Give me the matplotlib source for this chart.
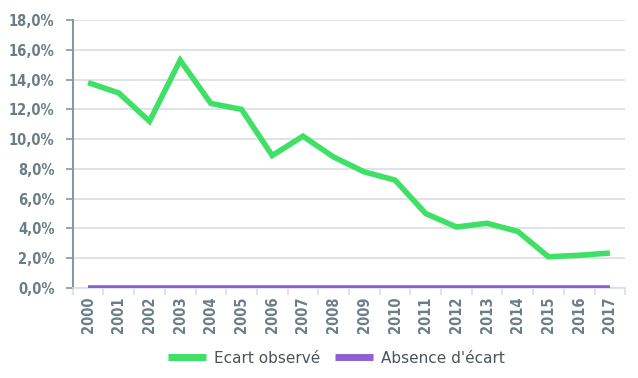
import matplotlib
matplotlib.use("Agg")
import matplotlib.pyplot as plt
from matplotlib.ticker import FuncFormatter

years = [str(y) for y in range(2000, 2018)]
ecart = [13.8, 13.1, 11.2, 15.3, 12.4, 12.0, 8.9, 10.2, 8.8, 7.8,
         7.25, 5.0, 4.1, 4.35, 3.8, 2.1, 2.2, 2.35]
absence = [0.0] * len(years)

label_color = "#6b7d86"
grid_color = "#d9dee1"

fig = plt.figure(figsize=(6.38, 3.78), dpi=100)
ax = fig.add_axes([0.114, 0.238, 0.866, 0.709])

x = range(len(years))
ax.plot(x, ecart, color="#3ee066", lw=4, solid_capstyle="butt",
        solid_joinstyle="miter", label="Ecart observé", zorder=3)
ax.plot(x, absence, color="#8e5fd3", lw=4, solid_capstyle="butt",
        label="Absence d'écart", zorder=3)

ax.set_xlim(-0.5, len(years) - 0.5)
ax.set_ylim(0, 18)
ax.set_yticks(range(0, 19, 2))
ax.yaxis.set_major_formatter(FuncFormatter(lambda v, p: f"{v:.1f}%".replace(".", ",")))
ax.set_xticks(list(x))
ax.set_xticklabels(years, rotation=90)

ax.grid(axis="y", color=grid_color, lw=1.2)
ax.set_axisbelow(True)
for s in ["top", "right"]:
    ax.spines[s].set_visible(False)
ax.spines["left"].set_color("#8a979d")
ax.spines["left"].set_linewidth(1.5)
ax.spines["bottom"].set_color(grid_color)
ax.spines["bottom"].set_linewidth(1.2)

# petites graduations entre les catégories
ax.set_xticks([i - 0.5 for i in range(len(years) + 1)], minor=True)
ax.tick_params(axis="x", which="major", length=0, pad=6)
ax.tick_params(axis="x", which="minor", length=5, color=grid_color, width=1.2)
ax.tick_params(axis="y", length=5, color="#8a979d", width=1.2, pad=8)

for lab in ax.get_xticklabels() + ax.get_yticklabels():
    lab.set_fontfamily("DejaVu Sans")
    lab.set_fontstretch("condensed")
    lab.set_fontweight("bold")
    lab.set_fontsize(10.5)
    lab.set_color(label_color)

leg = fig.legend(loc="center", bbox_to_anchor=(0.527, 0.052), ncol=2, frameon=False,
                 fontsize=11, handlelength=2.5, columnspacing=1.0, handletextpad=0.5)
for t in leg.get_texts():
    t.set_color("#4a5459")
for h in leg.get_lines():
    h.set_linewidth(5)

plt.savefig("out.png", dpi=100)
